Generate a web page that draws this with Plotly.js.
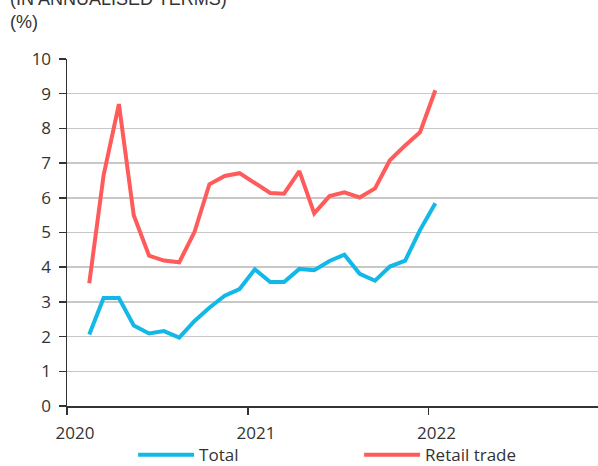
<!DOCTYPE html>
<html>
<head>
<meta charset="utf-8">
<script src="https://cdn.plot.ly/plotly-3.0.1.min.js"></script>
<style>html,body{margin:0;padding:0;background:#fff;}#chart{width:598px;height:466px;}</style>
</head>
<body>
<div id="chart"></div>
<script>
const months = ['2020-02-15','2020-03-15','2020-04-15','2020-05-15','2020-06-15','2020-07-15','2020-08-15','2020-09-15','2020-10-15','2020-11-15','2020-12-15',
  '2021-01-15','2021-02-15','2021-03-15','2021-04-15','2021-05-15','2021-06-15','2021-07-15','2021-08-15','2021-09-15','2021-10-15','2021-11-15','2021-12-15',
  '2022-01-15'];
const total = [2.06,3.11,3.11,2.32,2.09,2.16,1.97,2.45,2.83,3.18,3.37,
  3.94,3.57,3.57,3.95,3.91,4.18,4.36,3.81,3.61,4.02,4.19,5.07,
  5.84];
const retail = [3.54,6.65,8.70,5.50,4.33,4.19,4.14,5.02,6.39,6.63,6.71,
  6.41,6.14,6.12,6.77,5.55,6.05,6.16,6.01,6.27,7.08,7.51,7.89,
  9.10];
const yearTicks = ['2020-01-01','2021-01-01','2022-01-01'];
const yearLabels = ['2020','2021','2022'];
const yTicks = [0,1,2,3,4,5,6,7,8,9,10];

const FONT = 'Open Sans, sans-serif';
const HFONT = 'Liberation Sans, Arial, sans-serif';
const TXT = '#333333';

const data = [
  {x: months, y: total, type: 'scatter', mode: 'lines', name: 'Total',
   line: {color: '#12b8e8', width: 4}},
  {x: months, y: retail, type: 'scatter', mode: 'lines', name: 'Retail trade',
   line: {color: '#ff5b5b', width: 4}}
];

const layout = {
  width: 598, height: 466,
  margin: {l: 67, r: 0, t: 59, b: 60},
  paper_bgcolor: '#fff', plot_bgcolor: '#fff',
  font: {family: FONT, size: 17, color: TXT},
  showlegend: true,
  legend: {orientation: 'h', xref: 'paper', x: 0.1245, xanchor: 'left',
    yref: 'container', y: 0.023, yanchor: 'middle',
    entrywidth: 155, entrywidthmode: 'pixels', itemwidth: 56,
    font: {family: FONT, size: 17, color: TXT}, bgcolor: 'rgba(0,0,0,0)', tracegroupgap: 0},
  xaxis: {type: 'date', range: ['2020-01-01','2022-12-10'],
    tickmode: 'array', tickvals: yearTicks, ticktext: yearLabels,
    ticks: 'outside', ticklen: 7, tickwidth: 1.5, tickcolor: '#333',
    showline: true, linecolor: '#333', linewidth: 1.5,
    showgrid: false, zeroline: false, ticklabelshift: 8, ticklabelstandoff: 4,
    tickfont: {family: FONT, size: 17, color: TXT}, fixedrange: true},
  yaxis: {range: [0, 10], tickmode: 'array', tickvals: yTicks,
    ticks: 'outside', ticklen: 7, tickwidth: 1.5, tickcolor: '#333',
    showline: true, linecolor: '#333', linewidth: 1.5,
    showgrid: true, gridcolor: '#c8c8c8', gridwidth: 1.5, zeroline: false,
    ticklabelstandoff: 4,
    tickfont: {family: FONT, size: 17, color: TXT}, fixedrange: true},
  annotations: [
    {text: '(IN ANNUALISED TERMS)', xref: 'paper', yref: 'paper', x: -0.111, xanchor: 'left',
     y: 1.173, yanchor: 'middle', showarrow: false, font: {family: HFONT, size: 18, color: TXT}},
    {text: '(%)', xref: 'paper', yref: 'paper', x: -0.111, xanchor: 'left',
     y: 1.1066, yanchor: 'middle', showarrow: false, font: {family: HFONT, size: 18, color: TXT}}
  ]
};

Plotly.newPlot('chart', data, layout, {displayModeBar: false, staticPlot: true});
</script>
</body>
</html>
